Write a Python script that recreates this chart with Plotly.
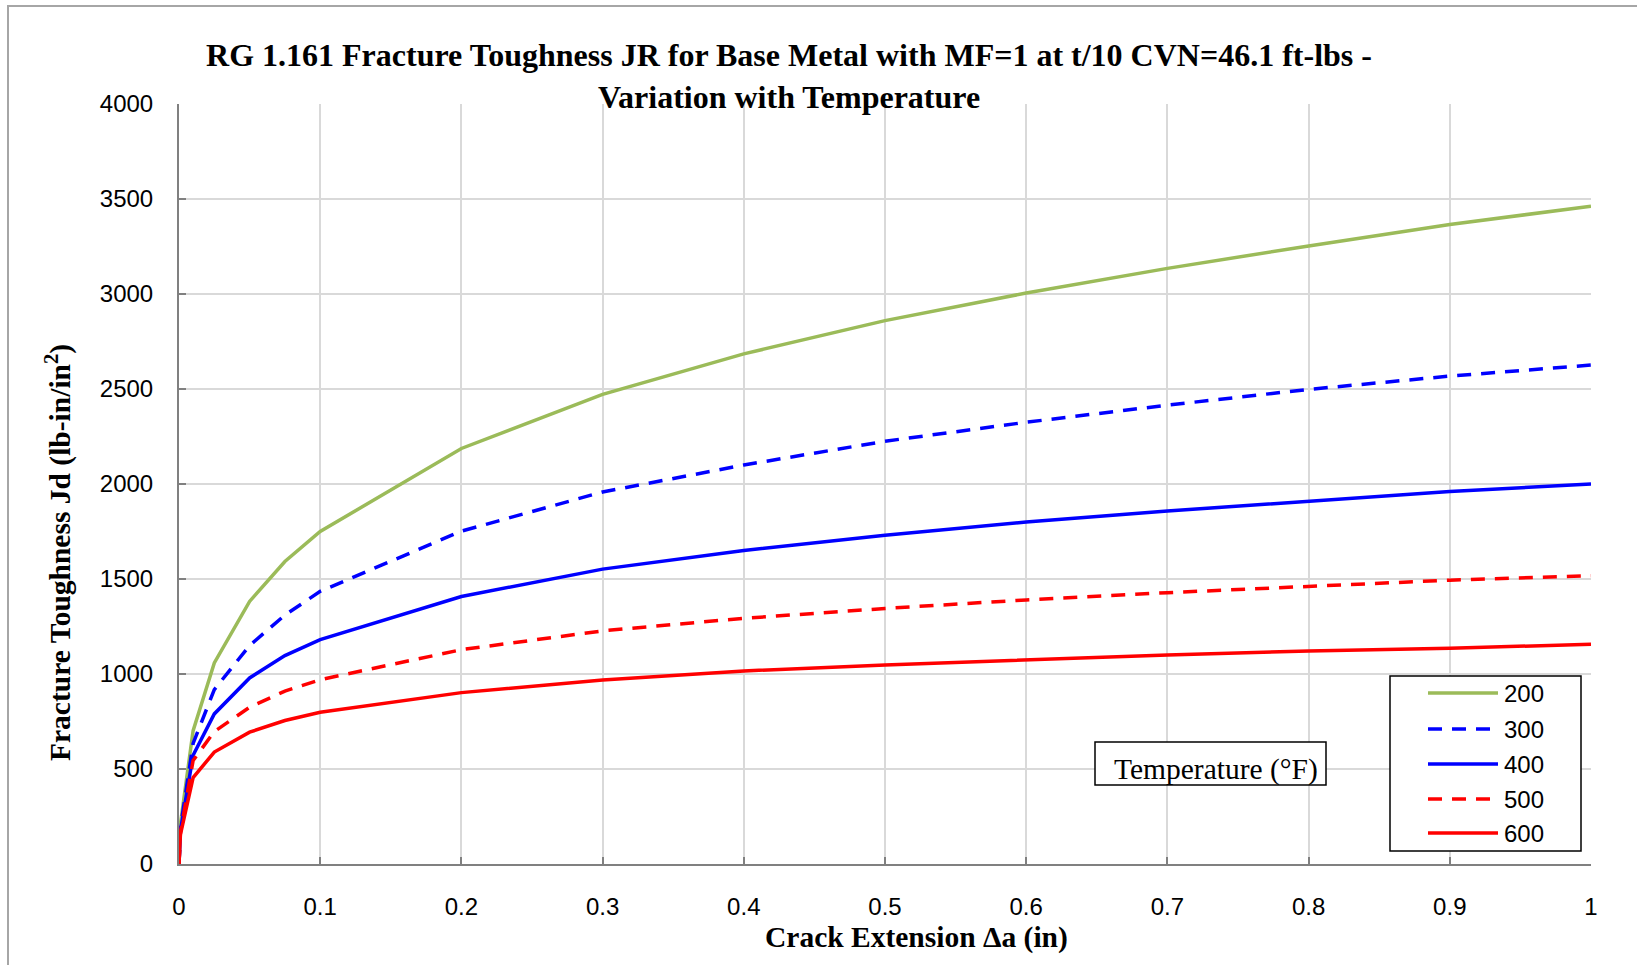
import plotly.graph_objects as go

# ---- data ----
crack_ext = [0, 0.001, 0.01, 0.025, 0.05, 0.075, 0.1, 0.2, 0.3, 0.4, 0.5, 0.6, 0.7, 0.8, 0.9, 1.0]
j_200 = [0, 210, 702, 1058, 1382, 1592, 1750, 2187, 2472, 2685, 2860, 3005, 3135, 3253, 3366, 3462]
j_300 = [0, 190, 635, 918, 1150, 1310, 1435, 1752, 1958, 2100, 2225, 2325, 2415, 2498, 2568, 2626]
j_400 = [0, 175, 572, 790, 979, 1097, 1181, 1408, 1552, 1650, 1730, 1800, 1858, 1907, 1960, 2000]
j_500 = [0, 165, 545, 697, 825, 910, 970, 1128, 1227, 1293, 1345, 1390, 1428, 1463, 1494, 1517]
j_600 = [0, 155, 455, 589, 694, 755, 799, 902, 968, 1016, 1048, 1076, 1100, 1121, 1136, 1156]

series_names = ["200", "300", "400", "500", "600"]
series_values = [j_200, j_300, j_400, j_500, j_600]
series_colors = ["#9BBB59", "#0000FF", "#0000FF", "#FF0000", "#FF0000"]
series_dash = ["solid", "14px,10px", "solid", "14px,10px", "solid"]

x_ticks = [0, 0.1, 0.2, 0.3, 0.4, 0.5, 0.6, 0.7, 0.8, 0.9, 1]
x_ticktext = ["0", "0.1", "0.2", "0.3", "0.4", "0.5", "0.6", "0.7", "0.8", "0.9", "1"]
y_ticks = [0, 500, 1000, 1500, 2000, 2500, 3000, 3500, 4000]

W, H = 1637, 965
L, R, T, B = 179, 1591, 104, 864  # plot area in pixels


def px(xp):
    return (xp - L) / (R - L)


def py(yp):
    return (B - yp) / (B - T)


fig = go.Figure()
for name, vals, col, dash in zip(series_names, series_values, series_colors, series_dash):
    fig.add_trace(go.Scatter(x=crack_ext, y=vals, mode="lines", name=name,
                             line=dict(color=col, width=3.5, dash=dash),
                             showlegend=False))

serif = "Liberation Serif, Times New Roman, serif"
sans = "Liberation Sans, Arial, sans-serif"

fig.update_layout(
    width=W, height=H,
    margin=dict(l=L, r=W - R, t=T, b=H - B),
    paper_bgcolor="white", plot_bgcolor="white",
    title=dict(text="<b>RG 1.161 Fracture Toughness JR for Base Metal with MF=1 at t/10 CVN=46.1 ft-lbs -<br>Variation with Temperature</b>",
               x=789 / W, xanchor="center", y=1 - 66 / H, yanchor="middle",
               font=dict(family=serif, size=32, color="black")),
    font=dict(family=sans, color="black"),
)

fig.update_xaxes(range=[0, 1], tickvals=x_ticks, ticktext=x_ticktext,
                 showgrid=True, gridcolor="#D9D9D9", gridwidth=2,
                 showline=True, linecolor="#808080", linewidth=2,
                 ticks="inside", ticklen=7, tickcolor="#808080", tickwidth=2,
                 tickfont=dict(family=sans, size=24, color="black"),
                 ticklabelstandoff=20, zeroline=False, fixedrange=True)
fig.update_yaxes(range=[0, 4000], tickvals=y_ticks,
                 showgrid=True, gridcolor="#D9D9D9", gridwidth=2,
                 showline=True, linecolor="#808080", linewidth=2,
                 ticks="inside", ticklen=7, tickcolor="#808080", tickwidth=2,
                 tickfont=dict(family=sans, size=24, color="black"),
                 ticklabelstandoff=19, zeroline=False, fixedrange=True)

annotations = [
    dict(text="<b>Crack Extension Δa (in)</b>", x=px(916), y=py(937), xref="paper", yref="paper",
         showarrow=False, xanchor="center", yanchor="middle",
         font=dict(family=serif, size=29.5, color="black")),
    dict(text="<b>Fracture Toughness Jd (lb-in/in<sup>2</sup>)</b>", x=px(58), y=py(553),
         xref="paper", yref="paper", showarrow=False, textangle=-90,
         xanchor="center", yanchor="middle",
         font=dict(family=serif, size=29.5, color="black")),
    dict(text="Temperature (°F)", x=px(1216), y=py(769), xref="paper", yref="paper",
         showarrow=False, xanchor="center", yanchor="middle",
         font=dict(family=serif, size=29.5, color="black")),
]

shapes = [
    # outer chart border
    dict(type="rect", xref="paper", yref="paper", x0=px(8), x1=px(1660), y0=py(990), y1=py(6),
         line=dict(color="#A6A6A6", width=2), fillcolor="rgba(0,0,0,0)", layer="below"),
    # temperature label box
    dict(type="rect", xref="paper", yref="paper", x0=px(1095), x1=px(1326), y0=py(785), y1=py(742),
         line=dict(color="black", width=1.5), fillcolor="white"),
    # legend box
    dict(type="rect", xref="paper", yref="paper", x0=px(1390), x1=px(1581), y0=py(851), y1=py(676),
         line=dict(color="black", width=1.5), fillcolor="white"),
]

legend_rows = [693, 729, 764, 799, 833]
for name, col, dash, yr in zip(series_names, series_colors, series_dash, legend_rows):
    shapes.append(dict(type="line", xref="paper", yref="paper", x0=px(1428), x1=px(1498),
                       y0=py(yr), y1=py(yr), line=dict(color=col, width=3.5, dash=dash)))
    annotations.append(dict(text=name, x=px(1502), y=py(yr), xref="paper", yref="paper",
                            showarrow=False, xanchor="left", yanchor="middle",
                            font=dict(family=sans, size=24, color="black")))

fig.update_layout(shapes=shapes, annotations=annotations)
fig.write_html("out.html")
